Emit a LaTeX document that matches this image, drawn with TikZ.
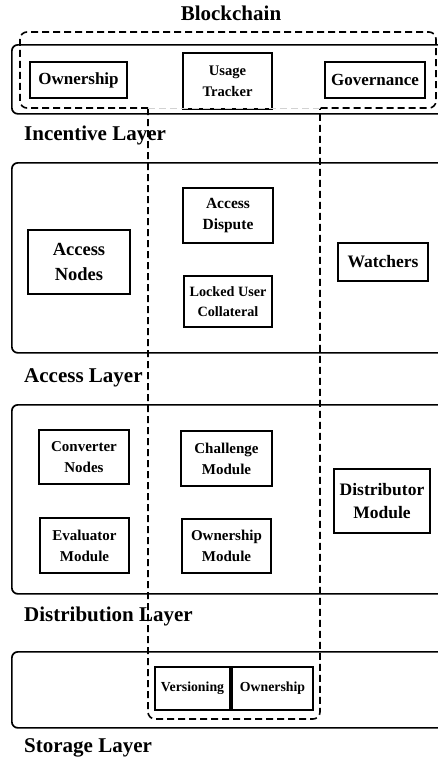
\documentclass[tikz,border=0pt]{standalone}
\usepackage{fontspec}
\setmainfont{Liberation Serif}
\tikzset{
  layerbox/.style={draw, line width=1.7pt, rounded corners=6pt, inner sep=0pt},
  comp/.style={draw, line width=2.5pt, align=center, inner sep=0pt},
  chainline/.style={line width=1.6pt, dash pattern=on 7pt off 4pt, rounded corners=7pt},
  title/.style={font=\bfseries\fontsize{21}{25}\selectfont, inner sep=0pt},
}
\begin{document}
\begin{tikzpicture}[x=1pt, y=-1pt]
    \useasboundingbox (0,0) rectangle (438,763);

    % Layers
    \node (incentive) [layerbox, minimum width=439, minimum height=69, anchor=north west] at (11,44) {};
    \node (access) [layerbox, minimum width=439, minimum height=190, anchor=north west] at (11,162) {};
    \node (distribution) [layerbox, minimum width=439, minimum height=189, anchor=north west] at (11,404) {};
    \node (storage) [layerbox, minimum width=439, minimum height=76, anchor=north west] at (11,651) {};

    % Layer titles
    \node (chaintitle) [title, anchor=base] at (231,20) {Blockchain};
    \node (inctitle) [title, anchor=base west] at (24,140) {Incentive Layer};
    \node (acctitle) [title, anchor=base west] at (24,382) {Access Layer};
    \node (distitle) [title, anchor=base west] at (24,621) {Distribution Layer};
    \node (stotitle) [title, anchor=base west] at (24,752) {Storage Layer};

    % Incentive layer
    \node (ownership) [comp, minimum width=97, minimum height=36, font=\bfseries\fontsize{17}{22}\selectfont] at (78.5,80) {Ownership};
    \node (usage) [comp, minimum width=89, minimum height=56, font=\bfseries\fontsize{14.6}{21}\selectfont] at (227.5,81) {Usage\\Tracker};
    \node (governance) [comp, minimum width=100, minimum height=36, font=\bfseries\fontsize{17}{22}\selectfont] at (375,80) {Governance};

    % Access layer
    \node (accnodes) [comp, minimum width=102, minimum height=64, font=\bfseries\fontsize{18.5}{25}\selectfont] at (79,262) {Access\\Nodes};
    \node (dispute) [comp, minimum width=90, minimum height=55, font=\bfseries\fontsize{15.5}{21}\selectfont] at (228,215.5) {Access\\Dispute};
    \node (collateral) [comp, minimum width=88, minimum height=51, font=\bfseries\fontsize{14.2}{20}\selectfont] at (228,301.5) {Locked User\\Collateral};
    \node (watchers) [comp, minimum width=90, minimum height=38, font=\bfseries\fontsize{17.5}{22}\selectfont] at (383,262) {Watchers};

    % Distribution layer
    \node (converter) [comp, minimum width=90, minimum height=54, font=\bfseries\fontsize{15}{21}\selectfont] at (84,457) {Converter\\Nodes};
    \node (evaluator) [comp, minimum width=89, minimum height=55, font=\bfseries\fontsize{15}{21}\selectfont] at (84.5,545.5) {Evaluator\\Module};
    \node (challenge) [comp, minimum width=91, minimum height=55, font=\bfseries\fontsize{15}{21}\selectfont] at (226.5,458.5) {Challenge\\Module};
    \node (ownmodule) [comp, minimum width=89, minimum height=54, font=\bfseries\fontsize{15}{21}\selectfont] at (226.5,546) {Ownership\\Module};
    \node (distributor) [comp, minimum width=96, minimum height=64, font=\bfseries\fontsize{17.5}{23}\selectfont] at (382,501) {Distributor\\Module};

    % Storage layer
    \node (versioning) [comp, minimum width=75, minimum height=43, font=\bfseries\fontsize{13.8}{18}\selectfont] at (192.5,688.5) {Versioning};
    \node (storeown) [comp, minimum width=81, minimum height=43, font=\bfseries\fontsize{13.8}{18}\selectfont] at (272.5,688.5) {Ownership};

    % Blockchain outline
    \coordinate (stemL) at (148,108);
    \coordinate (stemR) at (320,108);
    \draw[chainline] (stemL) -- (20,108) -- (20,32) -- (436,32) -- (436,108) -- (stemR);
    \draw[chainline] (stemL) -- (148,719) -- (320,719) -- (stemR);
    \draw[gray!35, line width=0.8pt, dash pattern=on 7pt off 4pt] (stemL) -- (stemR);

\end{tikzpicture}
\end{document}
